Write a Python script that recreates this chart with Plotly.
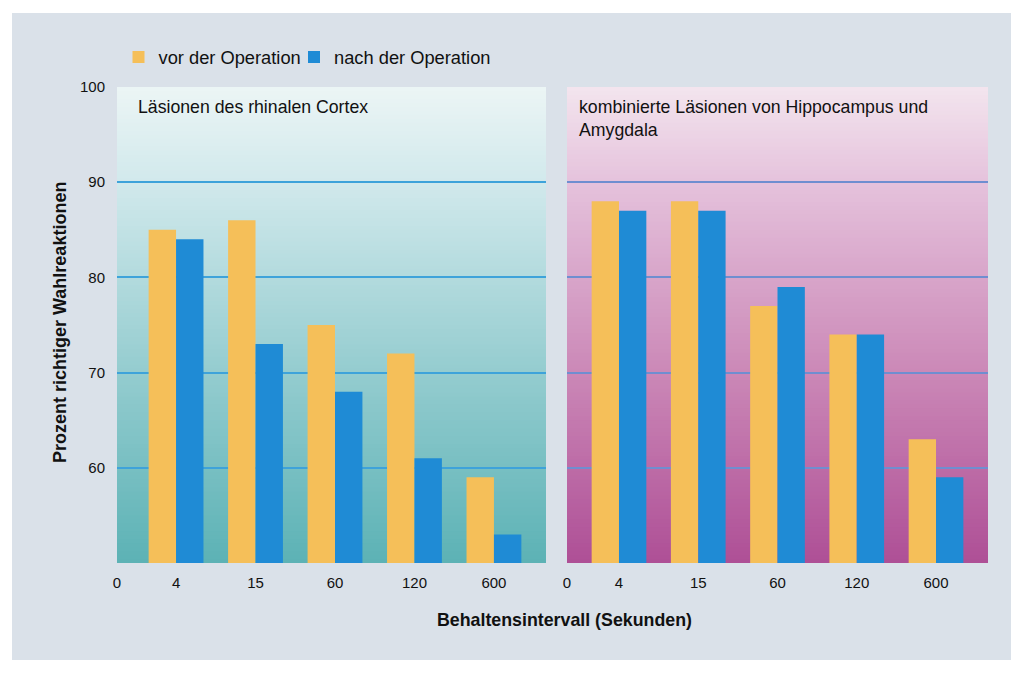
import plotly.graph_objects as go

# ---------------- data ----------------
categories = ["4", "15", "60", "120", "600"]
x_tick_labels = ["0", "4", "15", "60", "120", "600"]
y_ticks = [60, 70, 80, 90, 100]
grid_values = [60, 70, 80, 90]

series_names = ["vor der Operation", "nach der Operation"]

rhinal_vor = [85, 86, 75, 72, 59]
rhinal_nach = [84, 73, 68, 61, 53]

hippo_vor = [88, 88, 77, 74, 63]
hippo_nach = [87, 87, 79, 74, 59]

panel_titles = ["Läsionen des rhinalen Cortex",
                "kombinierte Läsionen von Hippocampus und<br>Amygdala"]
y_title = "Prozent richtiger Wahlreaktionen"
x_title = "Behaltensintervall (Sekunden)"

# ---------------- style ----------------
YELLOW = "#f5bf59"
BLUE = "#1f8bd5"
FONT = "Liberation Sans, Arial, Helvetica, sans-serif"
TXT = "#111111"
OUTER_BG = "#dae1e9"

left_stops = [(0.0, (92, 178, 181)), (0.4, (148, 204, 207)),
              (0.8, (209, 233, 236)), (1.0, (236, 245, 245))]
right_stops = [(0.0, (174, 79, 150)), (0.4, (203, 136, 183)),
               (0.8, (229, 194, 220)), (1.0, (243, 229, 238))]


def interp(stops, t):
    for (p0, c0), (p1, c1) in zip(stops[:-1], stops[1:]):
        if p0 <= t <= p1:
            f = (t - p0) / (p1 - p0)
            c = [round(a + (b - a) * f) for a, b in zip(c0, c1)]
            return "rgb(%d,%d,%d)" % tuple(c)
    return "rgb(%d,%d,%d)" % stops[-1][1]


# page has an 8px body margin -> the figure is drawn 8px in from the window edge
OFF = 8
W, H = 1024 - OFF, 673 - OFF
ml, mr, mt, mb = 117 - OFF, 1024 - 988, 87 - OFF, 673 - 563
pw, ph = W - ml - mr, H - mt - mb


def px_x(p):  # window pixel -> paper x
    return (p - OFF - ml) / pw


def px_y(p):  # window pixel -> paper y
    return (H - mb - (p - OFF)) / ph


xpos = list(range(len(categories)))

fig = go.Figure()

for xa, ya, vor, nach, show in [("x", "y", rhinal_vor, rhinal_nach, True),
                                ("x2", "y2", hippo_vor, hippo_nach, False)]:
    fig.add_trace(go.Bar(x=xpos, y=vor, name=series_names[0], marker_color=YELLOW,
                         marker_line_width=0, xaxis=xa, yaxis=ya, showlegend=show,
                         legendgroup="vor", legend="legend", hoverinfo="y"))
    fig.add_trace(go.Bar(x=xpos, y=nach, name=series_names[1], marker_color=BLUE,
                         marker_line_width=0, xaxis=xa, yaxis=ya, showlegend=show,
                         legendgroup="nach", legend="legend2", hoverinfo="y"))

shapes = []
# outer grey board
shapes.append(dict(type="rect", xref="paper", yref="paper",
                   x0=px_x(12), x1=px_x(1011), y0=px_y(660), y1=px_y(13),
                   fillcolor=OUTER_BG, line_width=0, layer="below"))

# gradient panel backgrounds
N = 120
for xr, yr, stops in [("x domain", "y domain", left_stops),
                      ("x2 domain", "y2 domain", right_stops)]:
    for k in range(N):
        t0 = k / N
        t1 = min(1.0, (k + 1) / N + 0.004)
        shapes.append(dict(type="rect", xref=xr, yref=yr, x0=0, x1=1, y0=t0, y1=t1,
                           fillcolor=interp(stops, (k + 0.5) / N), line_width=0,
                           layer="below"))

annotations = [
    dict(text=panel_titles[0], xref="x domain", yref="y domain", x=0, y=1,
         xanchor="left", yanchor="top", xshift=19, yshift=-8, showarrow=False,
         align="left", font=dict(size=17.7, color=TXT, family=FONT)),
    dict(text=panel_titles[1], xref="x2 domain", yref="y2 domain", x=0, y=1,
         xanchor="left", yanchor="top", xshift=10, yshift=-8, showarrow=False,
         align="left", font=dict(size=17.7, color=TXT, family=FONT)),
    dict(text="<b>" + x_title + "</b>", xref="paper", yref="paper",
         x=px_x(564), y=px_y(620), xanchor="center", yanchor="middle",
         showarrow=False, font=dict(size=17.8, color=TXT, family=FONT)),
    dict(text="<b>" + y_title + "</b>", xref="paper", yref="paper",
         x=px_x(60), y=px_y(323), xanchor="center", yanchor="middle", textangle=-90,
         showarrow=False, font=dict(size=18, color=TXT, family=FONT)),
]

xaxis_common = dict(showgrid=False, zeroline=False, showline=False, ticks="",
                    tickfont=dict(size=15, color=TXT, family=FONT),
                    tickmode="array", ticktext=x_tick_labels, fixedrange=True,
                    ticklabelstandoff=9)

legend_common = dict(orientation="h", xanchor="left", y=px_y(57), yanchor="middle",
                     font=dict(size=18.3, color=TXT, family=FONT),
                     bgcolor="rgba(0,0,0,0)")

fig.update_layout(
    width=W, height=H,
    margin=dict(l=ml, r=mr, t=mt, b=mb, pad=0),
    paper_bgcolor="white",
    plot_bgcolor="rgba(0,0,0,0)",
    font=dict(family=FONT, color=TXT),
    barmode="group", bargap=0.31, bargroupgap=0,
    xaxis=dict(domain=[0, px_x(546)], range=[-0.743, 4.655],
               tickvals=[-0.743] + xpos, **xaxis_common),
    xaxis2=dict(domain=[px_x(567), 1], range=[-0.656, 4.656], anchor="y2",
                tickvals=[-0.656] + xpos, **xaxis_common),
    yaxis=dict(range=[50, 100], tickmode="array", tickvals=y_ticks, showgrid=False,
               zeroline=False, showline=False, ticks="", fixedrange=True,
               tickfont=dict(size=15, color=TXT, family=FONT), ticklabelstandoff=11,
               minor=dict(tickmode="array", tickvals=grid_values, showgrid=True,
                          gridcolor="#3ea3da", gridwidth=1.5, ticks="")),
    yaxis2=dict(range=[50, 100], anchor="x2", tickmode="array", tickvals=grid_values,
                showgrid=True, gridcolor="#6f8ed0", gridwidth=1.5, zeroline=False,
                showline=False, showticklabels=False, ticks="", fixedrange=True),
    legend=dict(x=px_x(118.5), **legend_common),
    legend2=dict(x=px_x(294), **legend_common),
    shapes=shapes,
    annotations=annotations,
)

fig.write_html("out.html")
